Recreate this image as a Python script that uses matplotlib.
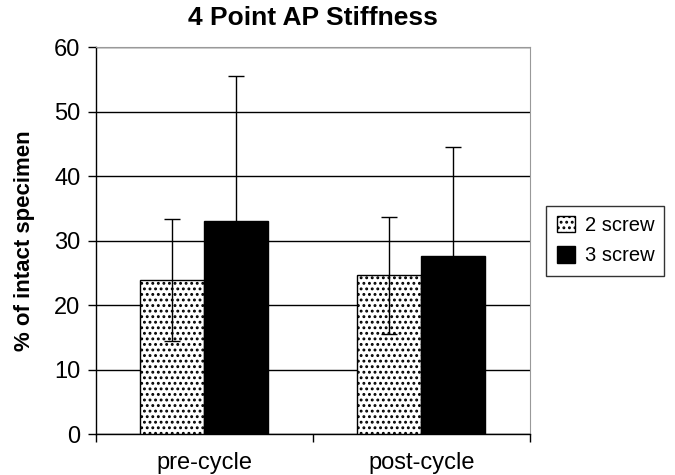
import matplotlib.pyplot as plt
import numpy as np

categories = ["pre-cycle", "post-cycle"]
series_names = ["2 screw", "3 screw"]
means_2 = [23.9, 24.6]
sd_2 = [9.4, 9.1]
means_3 = [33.0, 27.6]
sd_3 = [22.5, 16.9]
yticks = [0, 10, 20, 30, 40, 50, 60]

plt.rcParams['font.family'] = ['Liberation Sans', 'DejaVu Sans']
plt.rcParams['hatch.linewidth'] = 1.3

fig = plt.figure(figsize=(6.75, 4.75), dpi=100)
ax = fig.add_axes([0.142, 0.086, 0.643, 0.815])

x = np.arange(len(categories)) + 0.5
w = 0.295

ax.bar(x - w / 2, means_2, w, color='white', edgecolor='black', hatch='...',
       linewidth=1, label=series_names[0], zorder=3)
ax.bar(x + w / 2, means_3, w, color='black', edgecolor='black',
       linewidth=1, label=series_names[1], zorder=3)
ax.errorbar(x - w / 2, means_2, yerr=sd_2, fmt='none', ecolor='black',
            elinewidth=1, capsize=6, capthick=1, zorder=4)
ax.errorbar(x + w / 2, means_3, yerr=sd_3, fmt='none', ecolor='black',
            elinewidth=1, capsize=6, capthick=1, zorder=2)

ax.set_xlim(0, 2)
ax.set_ylim(0, 60)
ax.set_yticks(yticks)
ax.set_yticklabels([str(v) for v in yticks], fontsize=17)
ax.yaxis.grid(True, color='black', linewidth=1)
ax.set_axisbelow(True)

ax.set_xticks([0, 1, 2])
ax.set_xticklabels([])
ax.set_xticks(x, minor=True)
ax.set_xticklabels(categories, minor=True, fontsize=17)
ax.tick_params(axis='x', which='minor', length=0, pad=13)
ax.tick_params(axis='both', which='major', direction='out', length=6, width=1)
ax.tick_params(axis='y', pad=5)

for side in ['top', 'right']:
    ax.spines[side].set_color('#999999')
ax.spines['left'].set_linewidth(1)
ax.spines['bottom'].set_linewidth(1)

ax.set_ylabel("% of intact specimen", fontsize=16, fontweight='bold', labelpad=14)
ax.set_title("4 Point AP Stiffness", fontsize=19, fontweight='bold', pad=16)

leg = ax.legend(loc='center left', bbox_to_anchor=(1.015, 0.5), fontsize=14.5,
                frameon=True, fancybox=False, edgecolor='black',
                handlelength=0.9, handleheight=0.9, handletextpad=0.5,
                borderpad=0.5, labelspacing=0.55)
leg.get_frame().set_linewidth(1)

fig.savefig("out.png", dpi=100)
